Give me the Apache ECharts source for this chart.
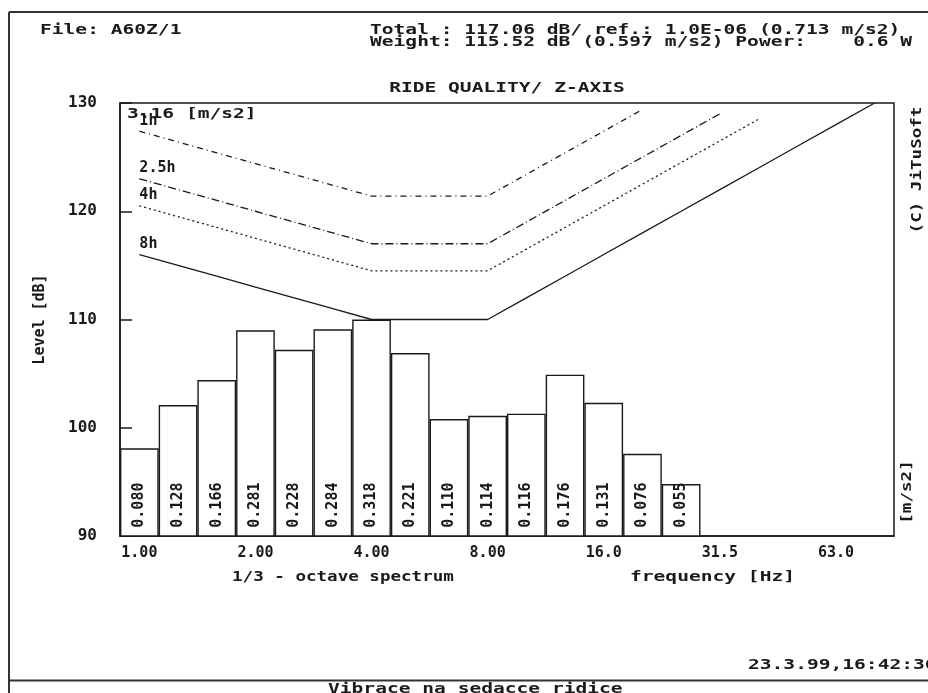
<!DOCTYPE html>
<html><head><meta charset="utf-8">
<script src="https://cdn.jsdelivr.net/npm/echarts@6/dist/echarts.min.js"></script>
<style>html,body{margin:0;padding:0;background:#fff}#c{width:928px;height:693px}</style>
</head><body><div id="c"></div>
<script>
// 1/3-octave band centre frequencies (category axis)
const bands = ['1.00','1.25','1.60','2.00','2.50','3.15','4.00','5.00','6.30','8.00',
               '10.0','12.5','16.0','20.0','25.0','31.5','40.0','50.0','63.0','80.0'];
const tickBands = ['1.00','2.00','4.00','8.00','16.0','31.5','63.0'];
// measured band levels [dB re 1e-6 m/s2]
const levelsDb = [98.1, 102.1, 104.4, 109.0, 107.2, 109.1, 110.0, 106.9, 100.8, 101.1, 101.3, 104.9, 102.3, 97.6, 94.8];
// band accelerations [m/s2] printed inside bars
const accelLabels = ['0.080','0.128','0.166','0.281','0.228','0.284','0.318','0.221','0.110','0.114','0.116','0.176','0.131','0.076','0.055'];
// exposure limit curves [dB]
const limit1h  = [127.4,126.4,125.4,124.4,123.4,122.4,121.4,121.4,121.4,121.4,123.4,125.4,127.4,129.4];
const limit2h5 = [123,122,121,120,119,118,117,117,117,117,119,121,123,125,127,129];
const limit4h  = [120.5,119.5,118.5,117.5,116.5,115.5,114.5,114.5,114.5,114.5,116.5,118.5,120.5,122.5,124.5,126.5,128.5];
const limit8h  = [116,115,114,113,112,111,110,110,110,110,112,114,116,118,120,122,124,126,128,130];
const yTicks = [90, 100, 110, 120, 130];

const FONT = 'DejaVu Sans Mono';
const INK = '#1a1a1a';
const chart = echarts.init(document.getElementById('c'), null, {renderer: 'canvas'});

function txt(text, x, y, opt) {
  opt = opt || {};
  return {
    type: 'text', x: x, y: y, rotation: opt.rot || 0,
    scaleX: opt.sx == null ? 1.45 : opt.sx, scaleY: 1,
    style: {
      text: text, fill: INK, fontFamily: FONT, fontWeight: 'bold',
      fontSize: opt.fs || 13.5, textAlign: opt.align || 'left', textVerticalAlign: 'middle'
    }
  };
}

function limitSeries(name, arr, dash) {
  return {
    type: 'line', name: name, silent: true, z: 3,
    symbol: 'circle', symbolSize: 0, showSymbol: true,
    lineStyle: {color: INK, width: 1.3, type: dash},
    data: arr.map(function (v, i) {
      if (i === 0) {
        return {value: v, label: {show: true, formatter: name, position: 'top', align: 'left',
          distance: 3, color: INK, fontFamily: FONT, fontWeight: 'bold', fontSize: 15}};
      }
      return v;
    })
  };
}

const tickIdx = bands.map(function (b) { return tickBands.indexOf(b) >= 0; });

chart.setOption({
  animation: false,
  backgroundColor: '#fff',
  grid: {left: 120, top: 103, right: 34, bottom: 157, show: true, borderColor: INK, borderWidth: 1.5},
  xAxis: {
    type: 'category', data: bands, boundaryGap: true,
    axisLine: {lineStyle: {color: INK, width: 1.5}},
    axisTick: {alignWithLabel: true, length: 6, inside: false, interval: function (i) { return tickIdx[i]; },
      lineStyle: {color: INK, width: 1.5}},
    axisLabel: {interval: function (i) { return tickIdx[i]; }, margin: 10, color: INK,
      fontFamily: FONT, fontWeight: 'bold', fontSize: 15},
    splitLine: {show: false}
  },
  yAxis: {
    type: 'value', min: yTicks[0], max: yTicks[yTicks.length - 1], interval: 10,
    name: 'Level [dB]', nameLocation: 'middle', nameRotate: 90, nameGap: 72,
    nameTextStyle: {color: INK, fontFamily: FONT, fontWeight: 'bold', fontSize: 15},
    axisLine: {show: true, lineStyle: {color: INK, width: 1.5}},
    axisTick: {show: true, inside: true, length: 12, lineStyle: {color: INK, width: 1.5}},
    axisLabel: {margin: 23, color: INK, fontFamily: FONT, fontWeight: 'bold', fontSize: 16},
    splitLine: {show: false}
  },
  series: [
    {
      type: 'bar', data: levelsDb, barCategoryGap: '0%', clip: true, z: 2,
      itemStyle: {color: '#fff', borderColor: INK, borderWidth: 1.4},
      label: {
        show: true, position: 'insideBottom', rotate: 90, align: 'left', verticalAlign: 'middle',
        distance: 9, color: INK, fontFamily: FONT, fontWeight: 'bold', fontSize: 15,
        formatter: function (p) { return accelLabels[p.dataIndex]; }
      }
    },
    limitSeries('1h', limit1h, [6, 4, 1, 4]),
    limitSeries('2.5h', limit2h5, [8, 3, 1, 3]),
    limitSeries('4h', limit4h, [2, 3]),
    limitSeries('8h', limit8h, 'solid')
  ],
  graphic: [
    {type: 'line', shape: {x1: 9, y1: 12, x2: 928, y2: 12}, style: {stroke: '#333', lineWidth: 2}},
    {type: 'line', shape: {x1: 9, y1: 12, x2: 9, y2: 693}, style: {stroke: '#333', lineWidth: 2}},
    {type: 'line', shape: {x1: 9, y1: 680.5, x2: 928, y2: 680.5}, style: {stroke: '#333', lineWidth: 2}},
    txt('File: A60Z/1', 40, 30.5),
    txt('Total : 117.06 dB/ ref.: 1.0E-06 (0.713 m/s2)', 370, 30.5),
    txt('Weight: 115.52 dB (0.597 m/s2) Power:    0.6 W', 370, 42),
    txt('RIDE QUALITY/ Z-AXIS', 507, 88, {align: 'center'}),
    txt('3.16 [m/s2]', 127, 114),
    txt('(C) JiTuSoft', 917, 170, {align: 'center', rot: Math.PI / 2, sx: 1.3}),
    txt('[m/s2]', 907, 492, {align: 'center', rot: Math.PI / 2, sx: 1.3}),
    txt('1/3 - octave spectrum', 232, 577, {sx: 1.3}),
    txt('frequency [Hz]', 630, 577),
    txt('23.3.99,16:42:36', 748, 665),
    txt('Vibrace na sedacce ridice', 328, 689)
  ]
});
</script>
</body></html>
